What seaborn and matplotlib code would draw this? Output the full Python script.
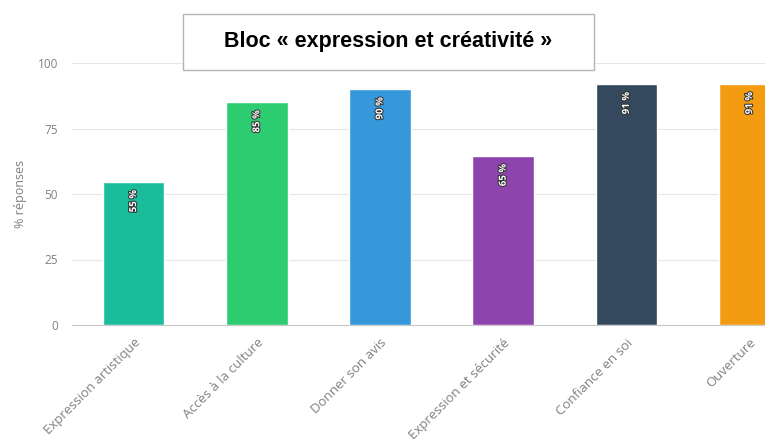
import matplotlib
matplotlib.use("Agg")
import matplotlib.pyplot as plt
import matplotlib.patheffects as pe
from matplotlib.patches import Rectangle
import seaborn as sns
import pandas as pd

categories = ["Expression artistique", "Accès à la culture", "Donner son avis",
              "Expression et sécurité", "Confiance en soi", "Ouverture"]
values = [54.5, 85, 90, 64.5, 92, 92]
labels = ["55 %", "85 %", "90 %", "65 %", "91 %", "91 %"]
colors = ["#1abc9c", "#2ecc71", "#3498db", "#8e44ad", "#34495e", "#f39c12"]
yticks = [0, 25, 50, 75, 100]
title = "Bloc « expression et créativité »"
ylabel = "% réponses"

df = pd.DataFrame({"cat": categories, "val": values})

sns.set_theme(style="white")
plt.rcParams['font.family'] = ['Open Sans', 'DejaVu Sans']

fig = plt.figure(figsize=(7.65, 4.44), dpi=100)
ax = fig.add_axes([72/765, 1-325/444, 1-72/765, (325-63)/444])

sns.barplot(data=df, x="cat", y="val", hue="cat", palette=colors, legend=False,
            width=0.5, ax=ax, saturation=1, zorder=3)

ax.set_yticks(yticks)
ax.set_yticklabels([str(t) for t in yticks], fontsize=8.5, color="#808080")
ax.yaxis.grid(True, color="#e6e6e6", linewidth=0.8, zorder=0)
ax.set_axisbelow(True)
for s in ["top", "right", "left"]:
    ax.spines[s].set_visible(False)
ax.spines["bottom"].set_color("#c8c8c8")
ax.spines["bottom"].set_linewidth(0.8)
ax.tick_params(axis="y", length=0, pad=10)

ax.set_xticks(range(len(categories)))
ax.set_xticklabels(categories, rotation=45, ha="right", rotation_mode="anchor",
                   fontsize=9.5, color="#808080")
ax.tick_params(axis="x", length=0, pad=8)
ax.set_xticks([i - 0.5 for i in range(len(categories) + 1)], minor=True)
ax.tick_params(axis="x", which="minor", length=5, color="#c8c8c8", width=0.8)
ax.set_xlabel("")
ax.set_ylabel(ylabel, fontsize=9, color="#808080", labelpad=8)

ax.set_xlim(-0.5, (765-72)/123.2 - 0.5)
ax.set_ylim(0, 100)

for i, (v, lab) in enumerate(zip(values, labels)):
    ax.text(i, v - 3, lab, rotation=90, ha="center", va="top", fontsize=7,
            color="white", fontweight="bold", clip_on=False,
            path_effects=[pe.withStroke(linewidth=1.5, foreground="#333333")], zorder=5)

rect = Rectangle((183/765, 1-70/444), (594-183)/765, 56/444, transform=fig.transFigure,
                 facecolor="white", edgecolor="#b4b4b4", linewidth=1, zorder=10)
fig.add_artist(rect)
fig.text((183+594)/2/765, 1-42/444, title, ha="center", va="center", fontsize=15.5,
         fontweight="bold", family=["Liberation Sans", "DejaVu Sans"], color="black",
         zorder=11)

fig.savefig("out.png", dpi=100)
